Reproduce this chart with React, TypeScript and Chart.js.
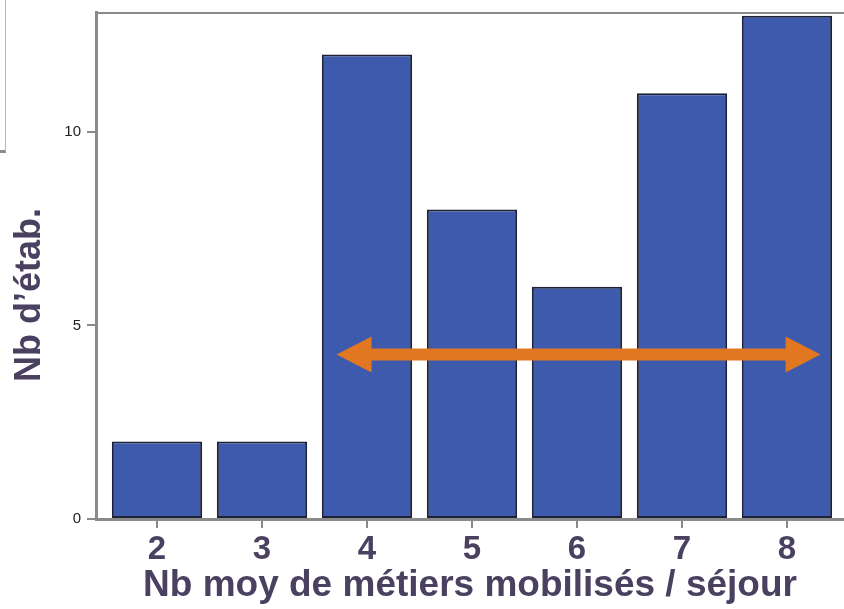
import React, { useEffect, useRef } from "react";
import { Chart, registerables } from "chart.js";

Chart.register(...registerables);

const categories = [2, 3, 4, 5, 6, 7, 8];
const counts = [2, 2, 12, 8, 6, 11, 13];
const yTicks = [0, 5, 10];
const arrowRange = [3.71, 8.32];
const arrowLevel = 4.25;

const xTitle = "Nb moy de métiers mobilisés / séjour";
const yTitle = "Nb d’étab.";

const FONT = "'Liberation Sans', Arial, sans-serif";
const TEXT_DARK = "#4a4160";
const AXIS_GREY = "#8a8a8a";

const decorPlugin = {
  id: "decorPlugin",
  afterDatasetsDraw(chart: any) {
    const { ctx, scales, chartArea } = chart;
    const xs = scales.x;
    const ys = scales.y;
    ctx.save();
    // top border line
    ctx.strokeStyle = AXIS_GREY;
    ctx.lineWidth = 2;
    ctx.beginPath();
    ctx.moveTo(chartArea.left, chartArea.top + 1);
    ctx.lineTo(chartArea.right, chartArea.top + 1);
    ctx.stroke();

    // double arrow
    const x1 = xs.getPixelForValue(arrowRange[0]);
    const x2 = xs.getPixelForValue(arrowRange[1]);
    const y = ys.getPixelForValue(arrowLevel);
    const head = 35;
    const half = 18;
    ctx.fillStyle = "#e27721";
    ctx.fillRect(x1 + head - 1, y - 6, x2 - x1 - 2 * head + 2, 12);
    ctx.beginPath();
    ctx.moveTo(x1, y);
    ctx.lineTo(x1 + head, y - half);
    ctx.lineTo(x1 + head, y + half);
    ctx.closePath();
    ctx.fill();
    ctx.beginPath();
    ctx.moveTo(x2, y);
    ctx.lineTo(x2 - head, y - half);
    ctx.lineTo(x2 - head, y + half);
    ctx.closePath();
    ctx.fill();

    // y axis title
    ctx.translate(30, 295);
    ctx.rotate(-Math.PI / 2);
    ctx.fillStyle = TEXT_DARK;
    ctx.font = `bold 36px ${FONT}`;
    ctx.textAlign = "center";
    ctx.textBaseline = "middle";
    ctx.fillText(yTitle, 0, 0);
    ctx.restore();
  },
};

export default function App() {
  const canvasRef = useRef<HTMLCanvasElement | null>(null);

  useEffect(() => {
    if (!canvasRef.current) return;
    const chart = new Chart(canvasRef.current, {
      type: "bar",
      data: {
        datasets: [
          {
            data: categories.map((c, i) => ({ x: c, y: counts[i] })),
            backgroundColor: "#3d5aad",
            borderColor: "#1d2135",
            borderWidth: 2,
            borderSkipped: false,
            barPercentage: 0.86,
            categoryPercentage: 1,
          },
        ],
      },
      options: {
        animation: false,
        responsive: true,
        maintainAspectRatio: false,
        layout: { padding: { top: 12, right: 0, left: 0, bottom: 0 } },
        plugins: {
          legend: { display: false },
          tooltip: { enabled: false },
        },
        scales: {
          x: {
            type: "linear",
            offset: false,
            min: 1.419,
            max: 8.543,
            afterBuildTicks: (scale: any) => {
              scale.ticks = categories.map((v) => ({ value: v }));
            },
            afterFit: (scale: any) => {
              scale.height = 90;
              scale.paddingLeft = 0;
              scale.paddingRight = 0;
            },
            grid: {
              offset: false,
              drawOnChartArea: false,
              drawTicks: true,
              tickLength: 9,
              color: AXIS_GREY,
              lineWidth: 2,
            },
            border: { display: true, color: AXIS_GREY, width: 3 },
            ticks: {
              color: TEXT_DARK,
              font: { family: FONT, size: 33, weight: "bold" },
              padding: 2,
              maxRotation: 0,
              autoSkip: false,
            },
            title: {
              display: true,
              text: xTitle,
              color: TEXT_DARK,
              font: { family: FONT, size: 37, weight: "bold" },
              padding: { top: 0, bottom: 1 },
            },
          },
          y: {
            type: "linear",
            min: 0,
            max: 13.1,
            afterBuildTicks: (scale: any) => {
              scale.ticks = yTicks.map((v) => ({ value: v }));
            },
            afterFit: (scale: any) => {
              scale.width = 96;
              scale.paddingTop = 0;
              scale.paddingBottom = 0;
            },
            grid: {
              drawOnChartArea: false,
              drawTicks: true,
              tickLength: 9,
              color: AXIS_GREY,
              lineWidth: 2,
            },
            border: { display: true, color: AXIS_GREY, width: 3 },
            ticks: {
              color: "#222222",
              font: { family: FONT, size: 15 },
              padding: 6,
            },
          },
        },
      },
      plugins: [decorPlugin],
    });
    return () => chart.destroy();
  }, []);

  return (
    <div style={{ position: "absolute", left: 0, top: 0, width: 844, height: 609, background: "#fff" }}>
      <div
        style={{
          position: "absolute",
          left: 0,
          top: 0,
          width: 5,
          height: 150,
          borderRight: "1px solid #b8b8b8",
          borderBottom: "3px solid #8a8a8a",
        }}
      />
      <canvas ref={canvasRef} />
    </div>
  );
}
